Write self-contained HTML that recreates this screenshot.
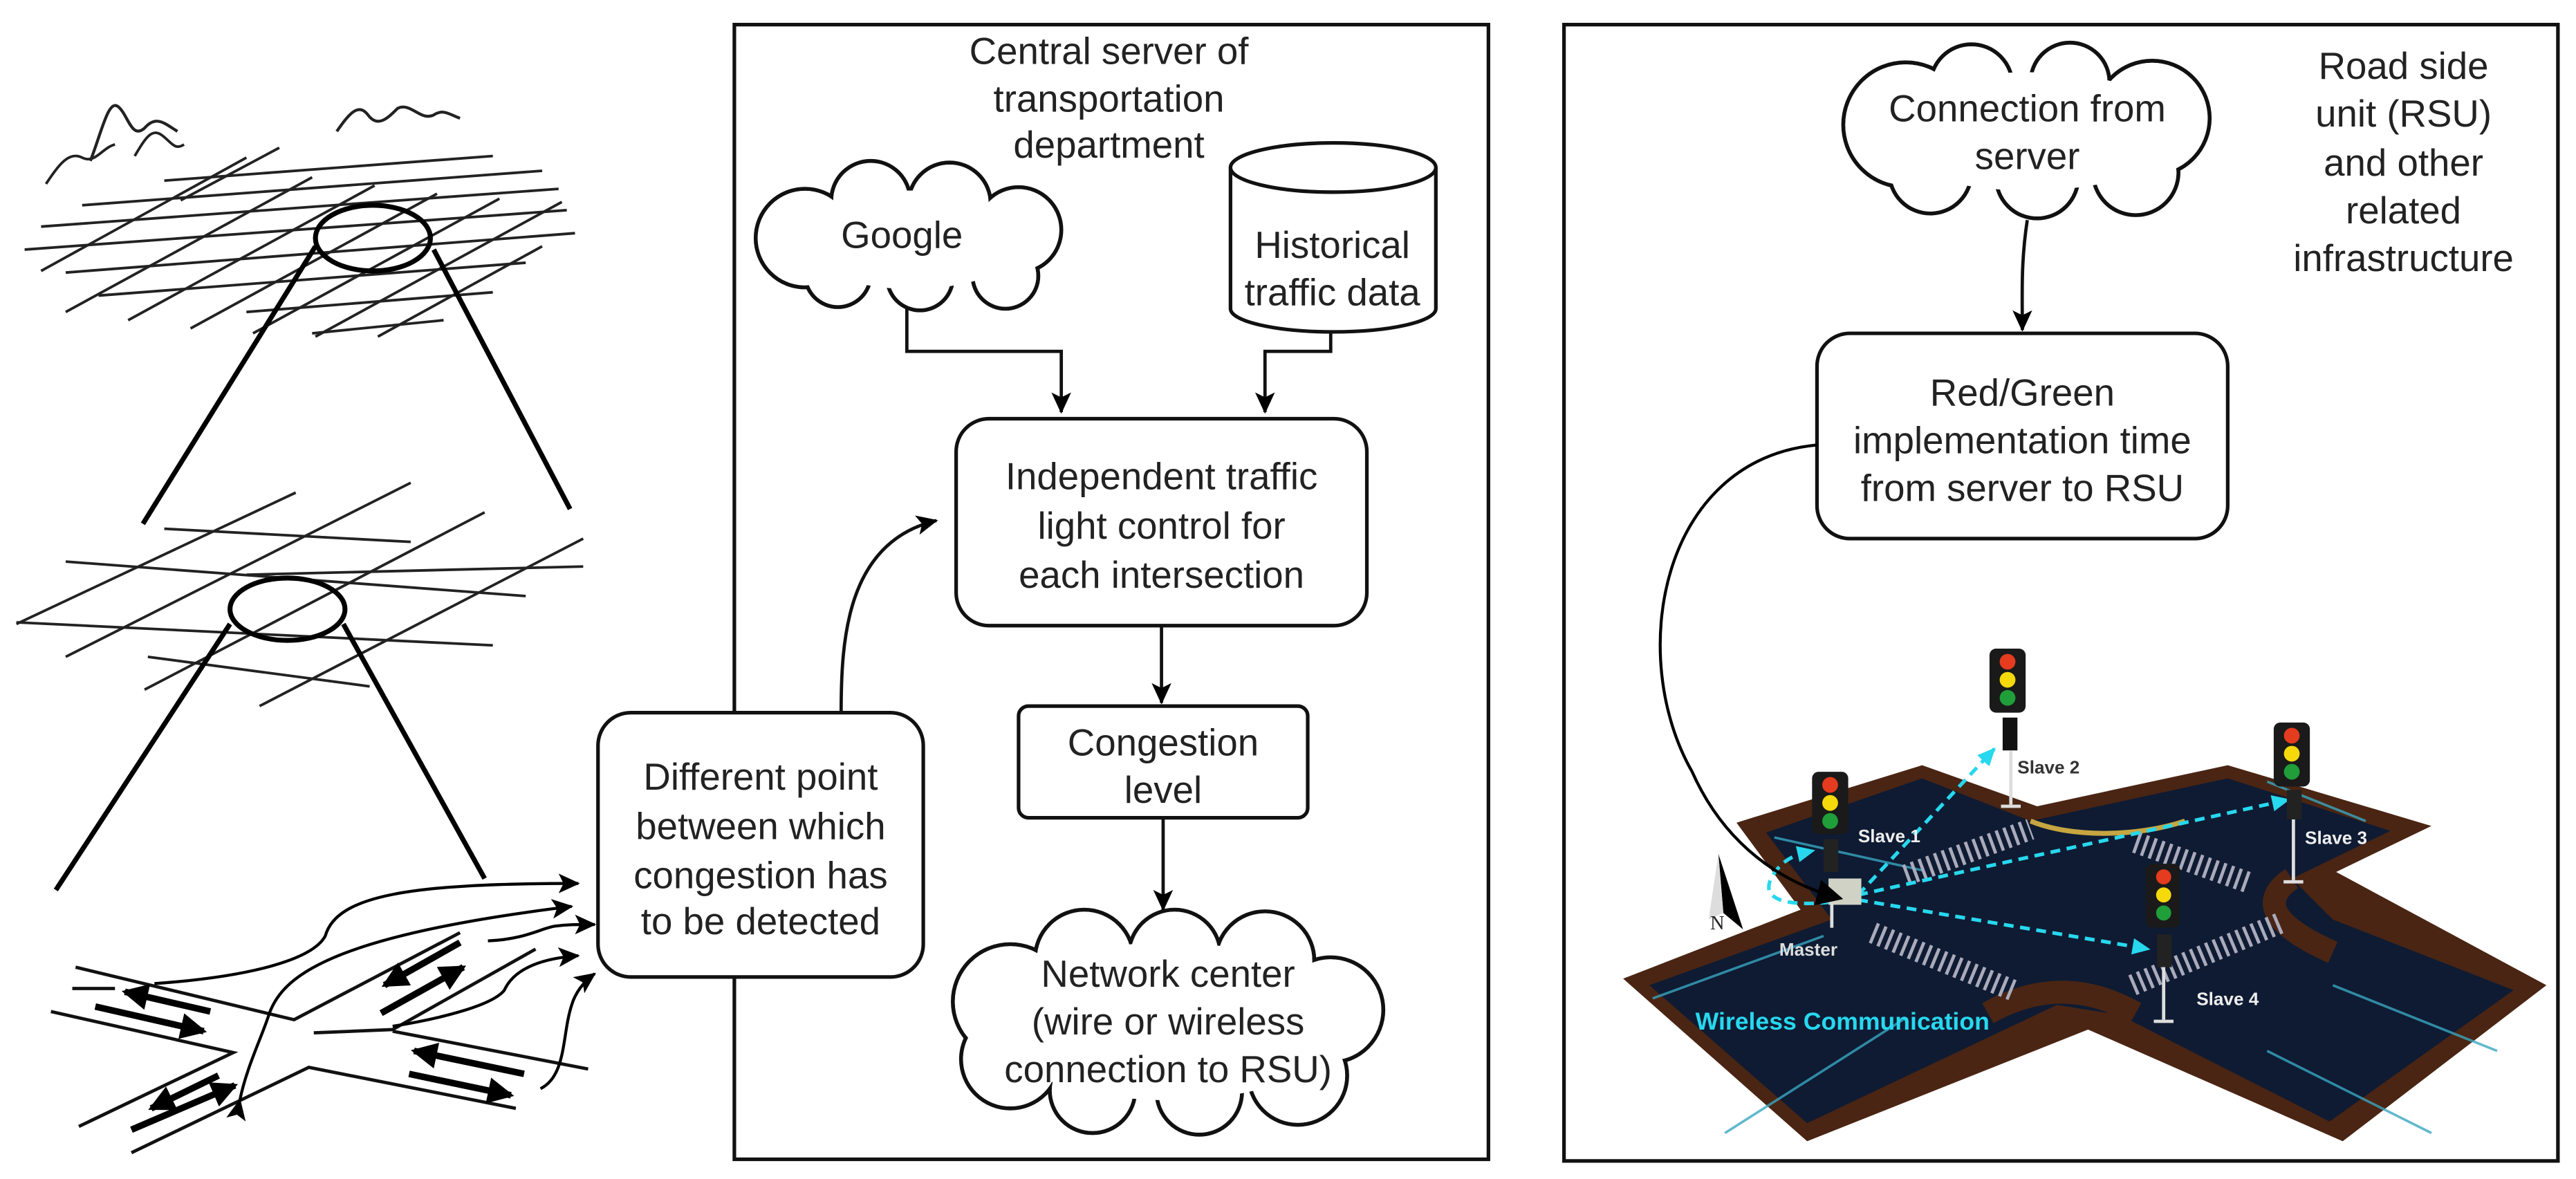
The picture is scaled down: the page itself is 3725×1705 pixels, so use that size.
<!DOCTYPE html>
<html><head><meta charset="utf-8">
<style>
html,body{margin:0;padding:0;background:#fff;}
svg{display:block;}
text{font-family:"Liberation Sans",sans-serif;fill:#222;}
</style></head>
<body>
<svg width="3725" height="1705" viewBox="0 0 1568 718" preserveAspectRatio="none" xmlns="http://www.w3.org/2000/svg">
<defs>
<marker id="ah" markerWidth="14" markerHeight="12" refX="12" refY="6" orient="auto" markerUnits="userSpaceOnUse">
<path d="M0,0 L13,6 L0,12 L3,6 Z" fill="#000"/></marker>
<marker id="ahc" markerWidth="12" markerHeight="10" refX="10" refY="5" orient="auto" markerUnits="userSpaceOnUse">
<path d="M0,0 L11,5 L0,10 Z" fill="#27d8ee"/></marker>
<marker id="ahb" markerWidth="18" markerHeight="16" refX="14" refY="8" orient="auto" markerUnits="userSpaceOnUse">
<path d="M0,0 L16,8 L0,16 Z" fill="#000"/></marker>
</defs>
<rect width="1568" height="718" fill="#fff"/>

<!-- ============ LEFT ILLUSTRATION ============ -->
<g stroke="#222" stroke-width="1.6" fill="none">
 <!-- top grid -->
 <line x1="40" y1="190" x2="190" y2="108"/><line x1="78" y1="195" x2="228" y2="113"/>
 <line x1="116" y1="200" x2="266" y2="118"/><line x1="154" y1="203" x2="304" y2="121"/>
 <line x1="192" y1="205" x2="342" y2="123"/><line x1="25" y1="165" x2="150" y2="96"/>
 <line x1="230" y1="205" x2="330" y2="150"/><line x1="110" y1="122" x2="170" y2="90"/>
 <line x1="15" y1="152" x2="345" y2="128"/><line x1="25" y1="138" x2="340" y2="115"/>
 <line x1="50" y1="125" x2="330" y2="104"/><line x1="40" y1="166" x2="350" y2="142"/>
 <line x1="60" y1="180" x2="320" y2="160"/><line x1="100" y1="110" x2="300" y2="95"/>
 <line x1="150" y1="190" x2="300" y2="178"/><line x1="190" y1="203" x2="270" y2="195"/>
 <!-- squiggles -->
 <path d="M55,98 C62,80 66,60 72,65 C78,70 80,85 88,78 C95,70 100,75 108,80" stroke-width="1.8"/>
 <path d="M28,112 C36,100 42,92 50,96 C58,100 62,90 70,88"/>
 <path d="M82,95 C88,85 92,78 98,82 C104,86 106,92 112,88"/>
 <path d="M205,80 C212,70 218,62 224,70 C230,78 236,72 242,66 C250,62 256,74 264,70 C270,66 274,70 280,72" stroke-width="1.8"/>
 <!-- middle grid -->
 <line x1="40" y1="342" x2="320" y2="363"/><line x1="10" y1="379" x2="300" y2="393"/>
 <line x1="100" y1="322" x2="250" y2="330"/><line x1="90" y1="400" x2="225" y2="418"/>
 <line x1="150" y1="350" x2="355" y2="345"/>
 <line x1="40" y1="400" x2="250" y2="294"/><line x1="88" y1="420" x2="295" y2="312"/>
 <line x1="158" y1="430" x2="355" y2="328"/><line x1="10" y1="380" x2="180" y2="300"/>
</g>
<g stroke="#000" stroke-width="3" fill="none">
 <ellipse cx="227" cy="145" rx="35" ry="20"/>
 <line x1="192" y1="150" x2="87" y2="319"/><line x1="264" y1="152" x2="347" y2="310"/>
 <ellipse cx="175" cy="371" rx="35" ry="19"/>
 <line x1="140" y1="380" x2="34" y2="542"/><line x1="209" y1="380" x2="295" y2="535"/>
</g>
<!-- road -->
<g stroke="#111" stroke-width="2" fill="none">
 <polyline points="46,589 179,621 280,568"/>
 <polyline points="31,616 142,641 48,686"/>
 <polyline points="80,702 188,650 314,675"/>
 <polyline points="191,629 239,627 326,578"/>
 <line x1="239" y1="628" x2="358" y2="651"/>
 <line x1="44" y1="602" x2="70" y2="602"/>
</g>
<g stroke="#000" stroke-width="4" fill="none">
 <line x1="128" y1="616" x2="76" y2="604" marker-end="url(#ahb)"/>
 <line x1="58" y1="613" x2="124" y2="628" marker-end="url(#ahb)"/>
 <line x1="280" y1="574" x2="234" y2="600" marker-end="url(#ahb)"/>
 <line x1="232" y1="617" x2="282" y2="589" marker-end="url(#ahb)"/>
 <line x1="133" y1="655" x2="92" y2="675" marker-end="url(#ahb)"/>
 <line x1="80" y1="688" x2="143" y2="661" marker-end="url(#ahb)"/>
 <line x1="319" y1="654" x2="252" y2="640" marker-end="url(#ahb)"/>
 <line x1="249" y1="654" x2="311" y2="667" marker-end="url(#ahb)"/>
</g>
<g stroke="#000" stroke-width="1.8" fill="none">
 <path d="M94,599 C150,595 190,585 198,570 C205,545 250,538 352,538" marker-end="url(#ah)"/>
 <path d="M146,670 C150,650 160,630 164,617 C172,595 200,570 348,552" marker-end="url(#ah)" marker-start="url(#ah)"/>
 <path d="M297,573 C320,572 330,565 338,564 C345,563 350,563 362,563" marker-end="url(#ah)"/>
 <path d="M239,625 C270,620 300,612 307,603 C312,592 325,584 352,582" marker-end="url(#ah)"/>
 <path d="M329,663 C345,655 342,630 348,612 C350,605 355,598 362,593" marker-end="url(#ah)"/>
</g>

<!-- ============ MIDDLE BOX ============ -->
<rect x="447" y="15" width="459" height="691" fill="none" stroke="#111" stroke-width="2.2"/>
<g font-size="23" text-anchor="middle">
 <text x="675" y="39">Central server of</text>
 <text x="675" y="68">transportation</text>
 <text x="675" y="96">department</text>
</g>
<!-- Google cloud -->
<g stroke="#111" stroke-width="2.4" fill="#fff">
 <circle cx="490" cy="145" r="30"/><circle cx="530" cy="122" r="24"/><circle cx="578" cy="124" r="25"/>
 <circle cx="620" cy="140" r="26"/><circle cx="612" cy="168" r="20"/><circle cx="560" cy="169" r="20"/><circle cx="510" cy="167" r="20"/>
</g>
<g fill="#fff">
 <circle cx="490" cy="145" r="28.8"/><circle cx="530" cy="122" r="22.8"/><circle cx="578" cy="124" r="23.8"/>
 <circle cx="620" cy="140" r="24.8"/><circle cx="612" cy="168" r="18.8"/><circle cx="560" cy="169" r="18.8"/><circle cx="510" cy="167" r="18.8"/>
 <ellipse cx="555" cy="146" rx="70" ry="30"/>
</g>
<text x="549" y="151" font-size="23" text-anchor="middle">Google</text>
<!-- cylinder -->
<path d="M749,102 L749,188 A62,14 0 0 0 874,188 L874,102" fill="#fff" stroke="#111" stroke-width="2.2"/>
<ellipse cx="811.5" cy="102" rx="62.5" ry="15" fill="#fff" stroke="#111" stroke-width="2.2"/>
<g font-size="23" text-anchor="middle">
 <text x="811" y="157">Historical</text>
 <text x="811" y="186">traffic data</text>
</g>
<!-- arrows -->
<g stroke="#111" stroke-width="2" fill="none">
 <polyline points="552,188 552,214 646,214 646,251" marker-end="url(#ah)"/>
 <polyline points="810,202 810,214 770,214 770,251" marker-end="url(#ah)"/>
 <line x1="707" y1="381" x2="707" y2="428" marker-end="url(#ah)"/>
 <line x1="708" y1="498" x2="708" y2="554" marker-end="url(#ah)"/>
 <path d="M512,434 C512,390 515,330 570,317" marker-end="url(#ah)"/>
</g>
<rect x="582" y="255" width="250" height="126" rx="20" fill="#fff" stroke="#111" stroke-width="2.2"/>
<g font-size="23" text-anchor="middle">
 <text x="707" y="298">Independent traffic</text>
 <text x="707" y="328">light control for</text>
 <text x="707" y="358">each intersection</text>
</g>
<rect x="620" y="430" width="176" height="68" rx="6" fill="#fff" stroke="#111" stroke-width="2.2"/>
<g font-size="23" text-anchor="middle">
 <text x="708" y="460">Congestion</text>
 <text x="708" y="489">level</text>
</g>
<!-- network cloud -->
<g stroke="#111" stroke-width="2.4" fill="#fff">
 <circle cx="615" cy="610" r="35"/><circle cx="660" cy="584" r="30"/><circle cx="715" cy="582" r="28"/>
 <circle cx="770" cy="585" r="30"/><circle cx="810" cy="615" r="32"/><circle cx="790" cy="655" r="30"/>
 <circle cx="730" cy="665" r="26"/><circle cx="665" cy="664" r="26"/><circle cx="615" cy="645" r="30"/>
</g>
<g fill="#fff">
 <circle cx="615" cy="610" r="33.8"/><circle cx="660" cy="584" r="28.8"/><circle cx="715" cy="582" r="26.8"/>
 <circle cx="770" cy="585" r="28.8"/><circle cx="810" cy="615" r="30.8"/><circle cx="790" cy="655" r="28.8"/>
 <circle cx="730" cy="665" r="24.8"/><circle cx="665" cy="664" r="24.8"/><circle cx="615" cy="645" r="28.8"/>
 <ellipse cx="711" cy="622" rx="110" ry="48"/>
</g>
<g font-size="23" text-anchor="middle">
 <text x="711" y="601">Network center</text>
 <text x="711" y="630">(wire or wireless</text>
 <text x="711" y="659">connection to RSU)</text>
</g>
<!-- different point box -->
<rect x="364" y="434" width="198" height="161" rx="20" fill="#fff" stroke="#111" stroke-width="2.2"/>
<g font-size="23" text-anchor="middle">
 <text x="463" y="481">Different point</text>
 <text x="463" y="511">between which</text>
 <text x="463" y="541">congestion has</text>
 <text x="463" y="569">to be detected</text>
</g>

<!-- ============ RIGHT BOX ============ -->
<rect x="952" y="15" width="605" height="692" fill="none" stroke="#111" stroke-width="2.2"/>
<g font-size="23" text-anchor="middle">
 <text x="1463" y="48">Road side</text>
 <text x="1463" y="77">unit  (RSU)</text>
 <text x="1463" y="107">and other</text>
 <text x="1463" y="136">related</text>
 <text x="1463" y="165">infrastructure</text>
</g>
<g stroke="#111" stroke-width="2.4" fill="#fff">
 <circle cx="1160" cy="76" r="38"/><circle cx="1200" cy="52" r="25"/><circle cx="1260" cy="50" r="24"/>
 <circle cx="1310" cy="72" r="35"/><circle cx="1300" cy="105" r="26"/><circle cx="1240" cy="108" r="25"/><circle cx="1175" cy="105" r="25"/>
</g>
<g fill="#fff">
 <circle cx="1160" cy="76" r="36.8"/><circle cx="1200" cy="52" r="23.8"/><circle cx="1260" cy="50" r="22.8"/>
 <circle cx="1310" cy="72" r="33.8"/><circle cx="1300" cy="105" r="24.8"/><circle cx="1240" cy="108" r="23.8"/><circle cx="1175" cy="105" r="23.8"/>
 <ellipse cx="1235" cy="80" rx="95" ry="36"/>
</g>
<g font-size="23" text-anchor="middle">
 <text x="1234" y="74">Connection from</text>
 <text x="1234" y="103">server</text>
</g>
<path d="M1234,134 C1230,160 1231,180 1231,201" stroke="#111" stroke-width="2" fill="none" marker-end="url(#ah)"/>
<rect x="1106" y="203" width="250" height="125" rx="20" fill="#fff" stroke="#111" stroke-width="2.2"/>
<g font-size="23" text-anchor="middle">
 <text x="1231" y="247">Red/Green</text>
 <text x="1231" y="276">implementation time</text>
 <text x="1231" y="305">from server to RSU</text>
</g>

<!-- intersection -->
<polygon points="1057,501 1170,466 1240,491 1356,466 1480,503 1422,531 1550,600 1426,695 1271,627 1100,695 988,596 1096,554" fill="#4a2513"/>
<polygon points="1075,507 1170,474 1236,500 1356,474 1455,506 1395,535 1420,560 1530,603 1418,683 1290,618 1252,612 1100,684 1004,600 1115,560" fill="#0e1b33"/>
<path d="M1236,500 C1260,510 1300,510 1330,500" stroke="#c6a640" stroke-width="3" fill="none"/>
<path d="M1395,535 C1380,545 1375,560 1420,580" stroke="#4a2513" stroke-width="14" fill="none"/>
<path d="M1210,617 C1240,600 1270,600 1300,617" stroke="#4a2513" stroke-width="14" fill="none"/>
<g stroke="#3aa6c0" stroke-width="1.5" fill="none" opacity="0.8">
 <line x1="1006" y1="608" x2="1110" y2="570"/><line x1="1050" y1="690" x2="1160" y2="620"/>
 <line x1="1420" y1="600" x2="1520" y2="640"/><line x1="1380" y1="640" x2="1480" y2="690"/>
 <line x1="1080" y1="510" x2="1170" y2="530"/><line x1="1380" y1="476" x2="1440" y2="500"/>
</g>
<g stroke="#aab" stroke-width="13" stroke-dasharray="2,3" fill="none">
 <line x1="1160" y1="533" x2="1236" y2="505"/>
 <line x1="1300" y1="513" x2="1370" y2="538"/>
 <line x1="1140" y1="568" x2="1225" y2="603"/>
 <line x1="1298" y1="600" x2="1388" y2="562"/>
</g>
<!-- north arrow -->
<polygon points="1046,520 1061,566 1049,556" fill="#000"/>
<polygon points="1046,520 1040,560 1049,556" fill="#ddd"/>
<text x="1041" y="566" font-size="12" font-family="Liberation Serif" style="font-family:'Liberation Serif',serif">N</text>
<!-- cyan links -->
<g stroke="#27d8ee" stroke-width="2.2" stroke-dasharray="6,4" fill="none">
 <line x1="1131" y1="545" x2="1214" y2="456" marker-end="url(#ahc)"/>
 <line x1="1131" y1="545" x2="1393" y2="487" marker-end="url(#ahc)"/>
 <line x1="1131" y1="548" x2="1308" y2="578" marker-end="url(#ahc)"/>
 <path d="M1124,548 C1100,552 1070,552 1078,535 C1085,522 1095,520 1104,518" marker-end="url(#ahc)"/>
</g>
<!-- master -->
<rect x="1113" y="535" width="20" height="16" fill="#cfd2c4"/>
<line x1="1115" y1="550" x2="1115" y2="565" stroke="#ddd" stroke-width="2"/>
<!-- traffic lights -->
<g>
 <rect x="1211" y="395" width="22" height="39" rx="4" fill="#1a1a1a"/>
 <circle cx="1222" cy="403" r="4.8" fill="#e53b1e"/><circle cx="1222" cy="414" r="4.8" fill="#f5d90a"/><circle cx="1222" cy="425" r="4.8" fill="#1f9e3a"/>
 <rect x="1219" y="437" width="9" height="20" fill="#111"/>
 <line x1="1224" y1="457" x2="1224" y2="490" stroke="#ddd" stroke-width="2"/><line x1="1218" y1="491" x2="1230" y2="491" stroke="#ddd" stroke-width="2"/>

 <rect x="1103" y="470" width="22" height="38" rx="4" fill="#1a1a1a"/>
 <circle cx="1114" cy="478" r="4.8" fill="#e53b1e"/><circle cx="1114" cy="489" r="4.8" fill="#f5d90a"/><circle cx="1114" cy="500" r="4.8" fill="#1f9e3a"/>
 <rect x="1110" y="511" width="9" height="20" fill="#222"/>

 <rect x="1384" y="440" width="22" height="39" rx="4" fill="#1a1a1a"/>
 <circle cx="1395" cy="448" r="4.8" fill="#e53b1e"/><circle cx="1395" cy="459" r="4.8" fill="#f5d90a"/><circle cx="1395" cy="470" r="4.8" fill="#1f9e3a"/>
 <rect x="1392" y="481" width="9" height="18" fill="#222"/>
 <line x1="1396" y1="499" x2="1396" y2="536" stroke="#ddd" stroke-width="2"/><line x1="1390" y1="537" x2="1402" y2="537" stroke="#ddd" stroke-width="2"/>

 <rect x="1306" y="526" width="21" height="39" rx="4" fill="#1a1a1a"/>
 <circle cx="1317" cy="534" r="4.6" fill="#e53b1e"/><circle cx="1317" cy="545" r="4.6" fill="#f5d90a"/><circle cx="1317" cy="556" r="4.6" fill="#1f9e3a"/>
 <rect x="1313" y="569" width="9" height="20" fill="#222"/>
 <line x1="1317" y1="589" x2="1317" y2="621" stroke="#ddd" stroke-width="2"/><line x1="1311" y1="622" x2="1323" y2="622" stroke="#ddd" stroke-width="2"/>
</g>
<g font-size="11" font-weight="bold">
 <text x="1228" y="471" style="fill:#333">Slave 2</text>
 <text x="1131" y="513" style="fill:#eee">Slave 1</text>
 <text x="1403" y="514" style="fill:#eee">Slave 3</text>
 <text x="1337" y="612" style="fill:#eee">Slave 4</text>
 <text x="1083" y="582" style="fill:#ddd">Master</text>
</g>
<text x="1032" y="627" font-size="15" font-weight="bold" style="fill:#27d8ee">Wireless Communication</text>
<!-- curved connector to master -->
<path d="M1106,271 C1010,280 990,400 1030,470 C1050,515 1085,538 1120,547" stroke="#000" stroke-width="1.8" fill="none" marker-end="url(#ahb)"/>
</svg>
</body></html>
